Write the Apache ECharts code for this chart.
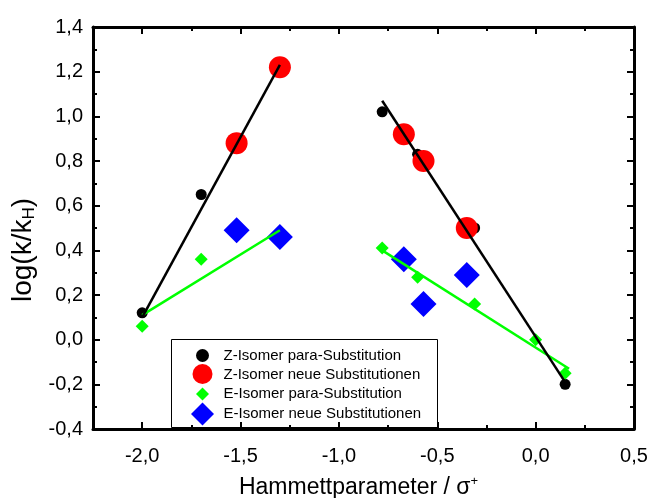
<!DOCTYPE html>
<html>
<head>
<meta charset="utf-8">
<script src="https://cdn.jsdelivr.net/npm/echarts@6/dist/echarts.min.js"></script>
<style>
  html, body { margin: 0; padding: 0; background: #fff; }
  #chart { width: 648px; height: 498px; }
</style>
</head>
<body>
<div id="chart"></div>
<script>
// Hammett plot: log(k/kH) against sigma+ for Z and E isomers

// Z-isomer, para substitution (small black circles)
const zParaX = [-2.00, -1.70, -0.78, -0.60, -0.31, 0.15];
const zParaY = [0.12, 0.65, 1.02, 0.83, 0.50, -0.20];

// Z-isomer, new substitutions (large red circles)
const zNeuX = [-1.52, -1.30, -0.67, -0.57, -0.35];
const zNeuY = [0.88, 1.22, 0.92, 0.80, 0.50];

// E-isomer, para substitution (small green diamonds)
const eParaX = [-2.00, -1.70, -0.78, -0.60, -0.31, 0.00, 0.15];
const eParaY = [0.06, 0.36, 0.41, 0.28, 0.16, 0.00, -0.15];

// E-isomer, new substitutions (large blue diamonds)
const eNeuX = [-1.52, -1.30, -0.67, -0.57, -0.35];
const eNeuY = [0.49, 0.46, 0.36, 0.16, 0.29];

// Linear fit lines (end points)
const zFitLeftX = [-2.00, -1.30];
const zFitLeftY = [0.10, 1.23];
const zFitRightX = [-0.78, 0.15];
const zFitRightY = [1.07, -0.19];
const eFitLeftX = [-2.00, -1.30];
const eFitLeftY = [0.11, 0.49];
const eFitRightX = [-0.78, 0.17];
const eFitRightY = [0.40, -0.13];

// Axis ticks
const xMajorTicks = [-2.0, -1.5, -1.0, -0.5, 0.0, 0.5];
const xMinorTicks = [-1.75, -1.25, -0.75, -0.25, 0.25];

const seriesNames = [
  'Z-Isomer para-Substitution',
  'Z-Isomer neue Substitutionen',
  'E-Isomer para-Substitution',
  'E-Isomer neue Substitutionen'
];

const zip = (xs, ys) => xs.map((x, i) => [x, ys[i]]);
const fmt = v => v.toFixed(1).replace('.', ',').replace('-0,0', '0,0');

const FONT = 'Liberation Sans, Arial, sans-serif';
const AX_W = 3;

function xAxisDef(pos, ticks, len, showLine, showLabel) {
  return {
    type: 'value', position: pos, min: -2.25, max: 0.5, interval: 0.25,
    axisLine: { show: showLine, onZero: false, lineStyle: { color: '#000', width: AX_W } },
    axisTick: { show: true, inside: true, length: len, customValues: ticks,
                lineStyle: { color: '#000', width: 2 } },
    axisLabel: { show: showLabel, customValues: xMajorTicks, formatter: fmt,
                 color: '#000', fontFamily: FONT, fontSize: 20, margin: 17 },
    splitLine: { show: false }
  };
}

function yAxisDef(pos, showLabel) {
  return {
    type: 'value', position: pos, min: -0.4, max: 1.4, interval: 0.2,
    axisLine: { show: true, onZero: false, lineStyle: { color: '#000', width: AX_W } },
    axisTick: { show: true, inside: true, length: 7, lineStyle: { color: '#000', width: 2 } },
    minorTick: { show: true, splitNumber: 2, length: 4, lineStyle: { color: '#000', width: 2 } },
    axisLabel: { show: showLabel, formatter: fmt, color: '#000', fontFamily: FONT,
                 fontSize: 20, margin: 10 },
    splitLine: { show: false }
  };
}

const xBottom = xAxisDef('bottom', xMajorTicks, 7, true, true);
xBottom.name = '{a|Hammettparameter / σ}{sup|+}';
xBottom.nameLocation = 'middle';
xBottom.nameGap = 46;
xBottom.nameTextStyle = {
  padding: [0, 10, 0, 0],
  rich: {
    a: { fontFamily: FONT, fontSize: 23, color: '#000' },
    sup: { fontFamily: FONT, fontSize: 13, color: '#000', verticalAlign: 'top', padding: [0, 0, 12, 0] }
  }
};

const yLeft = yAxisDef('left', true);
yLeft.name = '{a|log(k/k}{sub|H}{a|)}';
yLeft.nameLocation = 'middle';
yLeft.nameGap = 55;
yLeft.nameTextStyle = {
  padding: [0, 44, 0, 0],
  rich: {
    a: { fontFamily: FONT, fontSize: 28, color: '#000' },
    sub: { fontFamily: FONT, fontSize: 17, color: '#000', padding: [12, 0, 0, 0] }
  }
};

const scatterStyle = color => ({ color: color, opacity: 1 });

const option = {
  backgroundColor: '#fff',
  animation: false,
  grid: { left: 93, right: 14, top: 27, bottom: 69, containLabel: false, outerBoundsMode: 'none' },
  xAxis: [
    xBottom,
    xAxisDef('bottom', xMinorTicks, 4, false, false),
    xAxisDef('top', xMajorTicks, 7, true, false),
    xAxisDef('top', xMinorTicks, 4, false, false)
  ],
  yAxis: [yLeft, yAxisDef('right', false)],
  series: [
    { name: seriesNames[0], type: 'scatter', symbol: 'circle', symbolSize: 11,
      itemStyle: scatterStyle('#000000'), data: zip(zParaX, zParaY), z: 2 },
    { name: seriesNames[1], type: 'scatter', symbol: 'circle', symbolSize: 22,
      itemStyle: scatterStyle('#ff0000'), data: zip(zNeuX, zNeuY), z: 3 },
    { name: seriesNames[2], type: 'scatter', symbol: 'diamond', symbolSize: 13,
      itemStyle: scatterStyle('#00ff00'), data: zip(eParaX, eParaY), z: 2 },
    { name: seriesNames[3], type: 'scatter', symbol: 'diamond', symbolSize: 26,
      itemStyle: scatterStyle('#0000ff'), data: zip(eNeuX, eNeuY), z: 3 },
    { type: 'line', data: zip(eFitLeftX, eFitLeftY), showSymbol: false, symbol: 'none',
      lineStyle: { color: '#00ff00', width: 2.5 }, z: 4, silent: true },
    { type: 'line', data: zip(eFitRightX, eFitRightY), showSymbol: false, symbol: 'none',
      lineStyle: { color: '#00ff00', width: 2.5 }, z: 4, silent: true },
    { type: 'line', data: zip(zFitLeftX, zFitLeftY), showSymbol: false, symbol: 'none',
      lineStyle: { color: '#000000', width: 2.5 }, z: 5, silent: true },
    { type: 'line', data: zip(zFitRightX, zFitRightY), showSymbol: false, symbol: 'none',
      lineStyle: { color: '#000000', width: 2.5 }, z: 5, silent: true }
  ],
  graphic: [{
    type: 'group', left: 171, top: 339, z: 100,
    children: [
      { type: 'rect', shape: { x: 0, y: 0, width: 266, height: 88 },
        style: { fill: '#fff', stroke: '#000', lineWidth: 1 } },
      { type: 'circle', shape: { cx: 31, cy: 16, r: 6.5 }, style: { fill: '#000' } },
      { type: 'circle', shape: { cx: 31, cy: 34.5, r: 10 }, style: { fill: '#ff0000' } },
      { type: 'polygon', shape: { points: [[31, 48], [37.5, 54.5], [31, 61], [24.5, 54.5]] },
        style: { fill: '#00ff00' } },
      { type: 'polygon', shape: { points: [[31, 63], [42.5, 74.5], [31, 86], [19.5, 74.5]] },
        style: { fill: '#0000ff' } },
      { type: 'text', x: 52, y: 16, style: { text: seriesNames[0], fontFamily: FONT, fontSize: 15,
        fill: '#000', verticalAlign: 'middle' } },
      { type: 'text', x: 52, y: 35, style: { text: seriesNames[1], fontFamily: FONT, fontSize: 15,
        fill: '#000', verticalAlign: 'middle' } },
      { type: 'text', x: 52, y: 54.5, style: { text: seriesNames[2], fontFamily: FONT, fontSize: 15,
        fill: '#000', verticalAlign: 'middle' } },
      { type: 'text', x: 52, y: 74, style: { text: seriesNames[3], fontFamily: FONT, fontSize: 15,
        fill: '#000', verticalAlign: 'middle' } }
    ]
  }]
};

const chart = echarts.init(document.getElementById('chart'), null, { renderer: 'canvas' });
chart.setOption(option);
</script>
</body>
</html>
